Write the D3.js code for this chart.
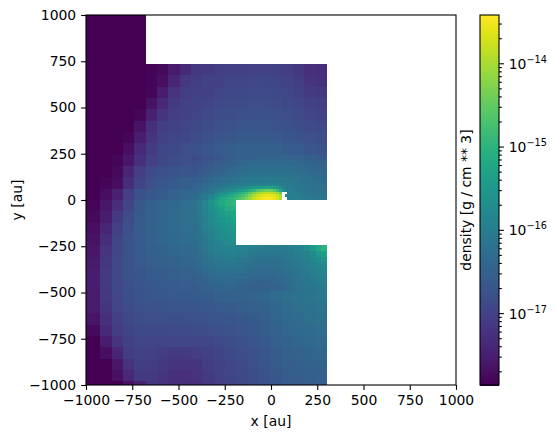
<!DOCTYPE html>
<html><head><meta charset="utf-8">
<script src="https://cdn.jsdelivr.net/npm/d3@7"></script>
<style>
html,body{margin:0;padding:0;background:#fff}
svg{display:block}
text{font-family:"DejaVu Sans",sans-serif;fill:#000}
</style></head><body><svg id="c" width="558" height="438"></svg>
<script>
const N = null;
const xTicks = [-1000,-750,-500,-250,0,250,500,750,1000];
const yTicks = [-1000,-750,-500,-250,0,250,500,750,1000];
const densityTicks = [1e-17,1e-16,1e-15,1e-14];
const densityExponents = ["−17","−16","−15","−14"];
const densityRange = [1.37e-18,3.8e-14];
const xLabel = "x [au]", yLabel = "y [au]", densityLabel = "density [g / cm ** 3]";

// log10 density, coarse mesh, rows top to bottom, columns left to right
const coarseLogDensity = [
[-17.85,-17.85,-17.85,-17.85,-17.85,-17.85],
[-17.85,-17.85,-17.85,-17.85,-17.85,-17.85],
[-17.85,-17.85,-17.85,-17.85,-17.85,-17.85],
[-17.85,-17.85,-17.85,-17.85,-17.85,-17.85],
[-17.85,-17.85,-17.85,-17.85,-17.85,-17.85],
[-17.85,-17.85,-17.85,-17.85,-17.85,-17.85,-17.82,-17.75,-17.55,-17.35,-17.15,-17.1,-17.05,-17.0,-17.0,-16.98,-16.98,-17.0,-17.05,-17.15,-17.25,-17.3],
[-17.85,-17.85,-17.85,-17.85,-17.85,-17.85,-17.82,-17.7,-17.4,-17.15,-17.08,-17.03,-17.0,-16.95,-16.93,-16.92,-16.92,-16.95,-16.98,-17.08,-17.2,-17.25],
[-17.85,-17.85,-17.85,-17.85,-17.85,-17.85,-17.8,-17.5,-17.2,-17.08,-17.02,-17.0,-16.95,-16.9,-16.88,-16.87,-16.87,-16.88,-16.92,-17.0,-17.1,-17.15],
[-17.85,-17.85,-17.85,-17.85,-17.85,-17.85,-17.65,-17.35,-17.12,-17.03,-16.98,-16.95,-16.9,-16.85,-16.83,-16.82,-16.82,-16.84,-16.88,-16.93,-17.0,-17.05],
[-17.85,-17.85,-17.85,-17.85,-17.85,-17.8,-17.45,-17.18,-17.05,-17.0,-16.95,-16.9,-16.85,-16.8,-16.77,-16.76,-16.76,-16.78,-16.82,-16.87,-16.93,-16.98],
[-17.85,-17.85,-17.85,-17.85,-17.85,-17.65,-17.25,-17.08,-17.0,-16.95,-16.9,-16.84,-16.78,-16.74,-16.71,-16.7,-16.7,-16.72,-16.76,-16.8,-16.86,-16.9],
[-17.85,-17.85,-17.85,-17.85,-17.8,-17.5,-17.2,-17.03,-16.95,-16.92,-16.85,-16.77,-16.71,-16.66,-16.63,-16.62,-16.62,-16.64,-16.68,-16.73,-16.78,-16.82],
[-17.85,-17.85,-17.85,-17.85,-17.7,-17.35,-17.12,-16.97,-16.88,-16.82,-16.76,-16.68,-16.6,-16.55,-16.52,-16.52,-16.52,-16.54,-16.58,-16.62,-16.67,-16.72],
[-17.85,-17.85,-17.85,-17.8,-17.6,-17.25,-17.02,-16.92,-16.85,-16.78],
[-17.85,-17.85,-17.85,-17.75,-17.4,-17.05,-16.87,-16.8,-16.73,-16.67],
[-17.85,-17.85,-17.8,-17.72,-17.28,-16.97,-16.77,-16.68,-16.62,-16.55],
[-17.85,-17.85,-17.72,-17.45,-17.05,-16.78,-16.66,-16.58,-16.5,-16.42],
[-17.8,-17.8,-17.6,-17.3,-16.95,-16.65,-16.52,-16.44,-16.36,-16.28],
[-17.75,-17.75,-17.52,-17.1,-16.85,-16.62,-16.5,-16.42,-16.35,-16.26],
[-17.7,-17.7,-17.4,-17.0,-16.78,-16.6,-16.48,-16.4,-16.35,-16.27],
[-17.65,-17.65,-17.28,-16.95,-16.72,-16.6,-16.5,-16.42,-16.37,-16.3],
[-17.6,-17.6,-17.2,-16.92,-16.72,-16.62,-16.52,-16.47,-16.42,-16.36],
[-17.55,-17.55,-17.15,-16.9,-16.74,-16.64,-16.57,-16.52,-16.48,-16.43],
[-17.5,-17.5,-17.12,-16.9,-16.75,-16.67,-16.62,-16.58,-16.54,-16.5],
[-17.5,-17.5,-17.12,-16.9,-16.77,-16.7,-16.65,-16.62,-16.6,-16.57],
[-17.55,-17.55,-17.15,-16.93,-16.8,-16.72,-16.68,-16.66,-16.64,-16.63,-16.62,-16.58,-16.54,-16.5,-16.48,-16.45,-16.4,-16.33,-16.26,-16.2,-16.15,-16.1],
[-17.55,-17.55,-17.18,-16.97,-16.85,-16.78,-16.74,-16.73,-16.71,-16.7,-16.69,-16.65,-16.62,-16.58,-16.56,-16.54,-16.48,-16.4,-16.32,-16.26,-16.2,-16.16],
[-17.62,-17.62,-17.25,-17.02,-16.9,-16.84,-16.81,-16.8,-16.79,-16.78,-16.76,-16.73,-16.7,-16.67,-16.65,-16.62,-16.55,-16.45,-16.37,-16.32,-16.26,-16.23],
[-17.75,-17.75,-17.35,-17.08,-16.95,-16.9,-16.88,-16.88,-16.87,-16.86,-16.84,-16.82,-16.78,-16.74,-16.7,-16.66,-16.58,-16.5,-16.42,-16.37,-16.32,-16.28],
[-17.85,-17.85,-17.5,-17.18,-17.0,-16.97,-16.97,-16.97,-16.97,-16.96,-16.94,-16.91,-16.87,-16.81,-16.76,-16.71,-16.63,-16.54,-16.47,-16.42,-16.38,-16.35],
[-17.85,-17.85,-17.7,-17.38,-17.08,-17.02,-17.03,-17.08,-17.13,-17.13,-17.08,-17.02,-16.96,-16.89,-16.82,-16.76,-16.67,-16.58,-16.52,-16.47,-16.44,-16.42],
[-17.85,-17.85,-17.85,-17.6,-17.22,-17.08,-17.08,-17.14,-17.2,-17.2,-17.17,-17.08,-17.0,-16.93,-16.86,-16.8,-16.71,-16.62,-16.55,-16.52,-16.49,-16.47],
[-17.85,-17.85,-17.85,-17.68,-17.35,-17.13,-17.12,-17.18,-17.24,-17.26,-17.23,-17.11,-17.03,-16.96,-16.89,-16.83,-16.74,-16.65,-16.58,-16.55,-16.52,-16.5],
[-17.85,-17.85,-17.85,-17.85,-17.65,-17.45,-17.2,-17.22,-17.28,-17.3,-17.28,-17.14,-17.06,-16.99,-16.92,-16.85,-16.76,-16.67,-16.6,-16.57,-16.55,-16.53]
];

// log10 density, medium mesh around the hole
const mediumLogDensity = [
[-16.9,-16.83,-16.78,-16.72,-16.68,-16.64,-16.6,-16.56,-16.52,-16.5,-16.48,-16.46,-16.45,-16.44,-16.43,-16.43,-16.44,-16.45,-16.47,-16.5,-16.52,-16.55,-16.58,-16.62],
[-16.83,-16.77,-16.71,-16.66,-16.61,-16.57,-16.52,-16.47,-16.43,-16.4,-16.38,-16.36,-16.35,-16.34,-16.33,-16.33,-16.34,-16.36,-16.38,-16.41,-16.44,-16.47,-16.5,-16.53],
[-16.76,-16.7,-16.64,-16.58,-16.53,-16.48,-16.43,-16.38,-16.34,-16.31,-16.29,-16.27,-16.26,-16.25,-16.25,-16.25,-16.26,-16.28,-16.3,-16.33,-16.36,-16.39,-16.42,-16.45],
[-16.67,-16.61,-16.55,-16.49,-16.44,-16.39,-16.34,-16.29,-16.25,-16.21,-16.19,-16.17,-16.16,-16.15,-16.15,-16.16,-16.17,-16.19,-16.22,-16.25,-16.28,-16.32,-16.35,-16.38],
[-16.58,-16.52,-16.45,-16.39,-16.33,-16.27,-16.22,-16.17,-16.13,-16.1,-16.08,-16.06,-16.05,-16.04,-16.05,-16.06,-16.08,-16.11,-16.14,-16.18,-16.21,-16.25,-16.28,-16.32],
[-16.5,-16.42,-16.35,-16.28],
[-16.42,-16.33,-16.23,-16.12],
[-16.32,-16.2,-16.05,-15.85],
[-16.2,-16.05,-15.85,-15.62,-15.4,-15.18,-15.0,-14.95],
[-16.2,-16.05,-15.85,-15.67,-15.5,-15.33,-15.18,-15.08],
[-16.2,-16.08,-15.9,-15.72,-15.58,-15.45,-15.33,-15.23],
[-16.22,-16.1,-15.92,-15.77,-15.63,-15.55,-15.43,-15.36],
[-16.25,-16.12,-15.95,-15.82,-15.7,-15.62,-15.53,-15.46],
[-16.27,-16.15,-16.0,-15.87,-15.77,-15.68,-15.62,-15.55],
[-16.3,-16.18,-16.05,-15.93,-15.83,-15.74,-15.68,-15.63],
[-16.33,-16.2,-16.08,-15.97,-15.88,-15.8,-15.75,-15.7],
[-16.35,-16.25,-16.12,-16.03,-15.95,-15.9,-15.87,-15.85,-15.88,-15.9,-15.95,-16.0,-16.02,-16.03,-16.05,-16.05,-16.03,-16.0,-15.95,-15.85,-15.7,-15.45,-15.2,-15.0],
[-16.38,-16.28,-16.18,-16.1,-16.03,-15.98,-15.96,-15.95,-15.97,-16.0,-16.05,-16.1,-16.12,-16.13,-16.13,-16.12,-16.1,-16.07,-16.0,-15.95,-15.88,-15.72,-15.52,-15.38],
[-16.4,-16.32,-16.22,-16.15,-16.1,-16.06,-16.04,-16.04,-16.06,-16.1,-16.14,-16.18,-16.2,-16.2,-16.2,-16.18,-16.15,-16.1,-16.05,-16.0,-15.95,-15.83,-15.7,-15.6],
[-16.43,-16.36,-16.28,-16.22,-16.17,-16.13,-16.12,-16.12,-16.14,-16.18,-16.22,-16.26,-16.28,-16.28,-16.27,-16.25,-16.21,-16.16,-16.1,-16.05,-16.0,-15.92,-15.82,-15.75],
[-16.48,-16.41,-16.34,-16.28,-16.24,-16.21,-16.2,-16.2,-16.22,-16.26,-16.3,-16.33,-16.35,-16.35,-16.34,-16.31,-16.27,-16.21,-16.15,-16.1,-16.05,-15.98,-15.9,-15.85],
[-16.52,-16.46,-16.4,-16.35,-16.31,-16.29,-16.28,-16.29,-16.31,-16.34,-16.38,-16.41,-16.42,-16.42,-16.4,-16.37,-16.32,-16.26,-16.19,-16.13,-16.08,-16.02,-15.96,-15.92],
[-16.57,-16.52,-16.46,-16.42,-16.39,-16.37,-16.36,-16.37,-16.39,-16.42,-16.45,-16.47,-16.48,-16.47,-16.45,-16.42,-16.37,-16.3,-16.23,-16.17,-16.12,-16.07,-16.02,-16.0],
[-16.62,-16.57,-16.52,-16.48,-16.45,-16.43,-16.43,-16.44,-16.46,-16.49,-16.52,-16.54,-16.54,-16.52,-16.5,-16.46,-16.41,-16.34,-16.27,-16.21,-16.17,-16.12,-16.08,-16.05]
];

// log10 density, fine mesh above the hole
const fineLogDensity = [
[-16.25,-16.22,-16.2,-16.17,-16.15,-16.12,-16.1,-16.08,-16.06,-16.04,-16.02,-16.0,-15.98,-15.96,-15.94,-15.92,-15.9,-15.88,-15.88,-15.88,-15.9,-15.92,-15.95,-15.98,-16.02,-16.05,-16.07,-16.09,-16.1,-16.12,-16.14,-16.16,-16.17,-16.19,-16.2,-16.22,-16.23,-16.24,-16.25,-16.26],
[-16.15,-16.1,-16.07,-16.03,-16.0,-15.96,-15.92,-15.87,-15.82,-15.78,-15.73,-15.68,-15.62,-15.55,-15.48,-15.42,-15.36,-15.32,-15.28,-15.27,-15.3,-15.38,-15.5,-15.7,-15.88,-15.98,-16.02,-16.05,-16.08,-16.1,-16.12,-16.14,-16.15,-16.17,-16.18,-16.2,-16.21,-16.22,-16.23,-16.24],
[-16.05,-16.0,-15.95,-15.9,-15.85,-15.78,-15.72,-15.65,-15.57,-15.48,-15.38,-15.25,-15.1,-14.95,-14.8,-14.65,-14.52,-14.43,-14.38,-14.38,-14.45,-14.6,-14.85,-15.2,-15.7,-15.9,-15.98,-16.02,-16.05,-16.08,-16.1,-16.12,-16.13,-16.15,-16.16,-16.18,-16.19,-16.2,-16.21,-16.22],
[-15.9,-15.83,-15.76,-15.68,-15.6,-15.52,-15.43,-15.34,-15.23,-15.1,-14.95,-14.78,-14.6,-14.42,-14.25,-14.1,-14.0,-13.9,-13.85,-13.85,-13.88,-13.98,-14.12,-14.45,N,N,-15.98,-16.0,-16.03,-16.05,-16.07,-16.09,-16.1,-16.12,-16.13,-16.15,-16.16,-16.17,-16.18,-16.2],
[-15.72,-15.62,-15.52,-15.42,-15.32,-15.22,-15.13,-15.04,-14.95,-14.84,-14.7,-14.5,-14.3,-14.12,-13.95,-13.8,-13.7,-13.6,-13.55,-13.55,-13.58,-13.66,-13.78,-14.05,N,-15.92,-15.96,-15.98,-16.0,-16.02,-16.04,-16.06,-16.07,-16.09,-16.1,-16.12,-16.13,-16.14,-16.15,-16.17],
[-15.55,-15.42,-15.3,-15.2,-15.12,-15.05,-14.97,-14.88,-14.78,-14.65,-14.5,-14.3,-14.1,-13.95,-13.8,-13.66,-13.55,-13.48,-13.45,-13.45,-13.48,-13.56,-13.68,-13.95,N,N,-15.94,-15.95,-15.97,-15.99,-16.01,-16.03,-16.04,-16.06,-16.07,-16.09,-16.1,-16.11,-16.12,-16.14]
];

// mesh geometry in au: right edge, height of the mesh top, cell size
const meshRight = 303.1, cell = 61.25;
const coarseLeft = meshRight - 22*cell, coarseTop = 735 + 5*cell;
const mediumLeft = meshRight - 24*cell/2, mediumTop = 245;
const fineLeft = meshRight - 40*cell/4, fineTop = 6*cell/4;

const axL=86, axT=15, axS=370;
const x = d3.scaleLinear().domain([-1000,1000]).range([axL,axL+axS]);
const y = d3.scaleLinear().domain([-1000,1000]).range([axT+axS,axT]);
const color = d3.scaleSequentialLog(d3.interpolateViridis).domain(densityRange);
const svg = d3.select("#c");
const FS = "13.9px";

svg.append("clipPath").attr("id","ax").append("rect").attr("x",axL).attr("y",axT).attr("width",axS).attr("height",axS);
const plot = svg.append("g").attr("clip-path","url(#ax)").attr("shape-rendering","crispEdges");
function level(rows,left,top,size){
  const cells = rows.flatMap((r,i)=>r.map((v,j)=>({v,i,j}))).filter(d=>d.v!==null);
  plot.append("g").selectAll("rect").data(cells).join("rect")
    .attr("x",d=>x(left+d.j*size))
    .attr("y",d=>y(top-d.i*size))
    .attr("width",d=>x(left+(d.j+1)*size)-x(left+d.j*size))
    .attr("height",d=>y(top-(d.i+1)*size)-y(top-d.i*size))
    .attr("fill",d=>color(Math.pow(10,d.v)));
}
level(coarseLogDensity,coarseLeft,coarseTop,cell);
level(mediumLogDensity,mediumLeft,mediumTop,cell/2);
level(fineLogDensity,fineLeft,fineTop,cell/4);

const fmt = d=>String(d).replace("-","−");
function style(g){
  g.select(".domain").remove();
  g.selectAll(".tick line").attr("stroke","#000").attr("stroke-width",1.1);
  g.selectAll(".tick text").attr("font-size",FS).attr("font-family",'"DejaVu Sans"').attr("fill","#000");
}
svg.append("g").attr("transform",`translate(0,${axT+axS})`)
  .call(d3.axisBottom(x).tickValues(xTicks).tickFormat(fmt).tickSize(4.9).tickPadding(4.9)).call(style);
svg.append("g").attr("transform",`translate(${axL},0)`)
  .call(d3.axisLeft(y).tickValues(yTicks).tickFormat(fmt).tickSize(4.9).tickPadding(4.9)).call(style);
svg.append("rect").attr("x",axL).attr("y",axT).attr("width",axS).attr("height",axS)
  .attr("fill","none").attr("stroke","#000").attr("stroke-width",1.1);
svg.append("text").attr("x",axL+axS/2).attr("y",426).attr("text-anchor","middle").attr("font-size",FS).text(xLabel);
svg.append("text").attr("transform",`translate(22,${axT+axS/2}) rotate(-90)`).attr("text-anchor","middle").attr("font-size",FS).text(yLabel);

// colour bar
const cbL=480, cbW=19;
const cb = d3.scaleLog().domain(densityRange).range([axT+axS,axT]);
const steps = d3.range(256);
svg.append("g").attr("shape-rendering","crispEdges").selectAll("rect").data(steps).join("rect")
  .attr("x",cbL).attr("width",cbW)
  .attr("y",s=>axT+axS*(255-s)/256).attr("height",axS/256+0.5)
  .attr("fill",s=>d3.interpolateViridis(s/255));
const minor = cb.ticks().filter(v=>!densityTicks.some(t=>Math.abs(v/t-1)<1e-6));
svg.append("g").attr("transform",`translate(${cbL+cbW},0)`)
  .call(d3.axisRight(cb).tickValues(minor).tickFormat("").tickSize(2.8)).call(style);
const maj = svg.append("g").attr("transform",`translate(${cbL+cbW},0)`)
  .call(d3.axisRight(cb).tickValues(densityTicks).tickFormat("").tickSize(4.9)).call(style);
maj.selectAll(".tick").each(function(d,i){
  const t = d3.select(this).append("text").attr("x",9.7).attr("y",5).attr("font-size",FS);
  t.append("tspan").text("10");
  t.append("tspan").attr("dy",-6).attr("font-size","9.7px").text(densityExponents[i]);
});
svg.append("rect").attr("x",cbL).attr("y",axT).attr("width",cbW).attr("height",axS)
  .attr("fill","none").attr("stroke","#000").attr("stroke-width",1.1);
svg.append("text").attr("transform",`translate(471,${axT+axS/2}) rotate(-90)`).attr("text-anchor","middle").attr("font-size",FS).text(densityLabel);
</script></body></html>
